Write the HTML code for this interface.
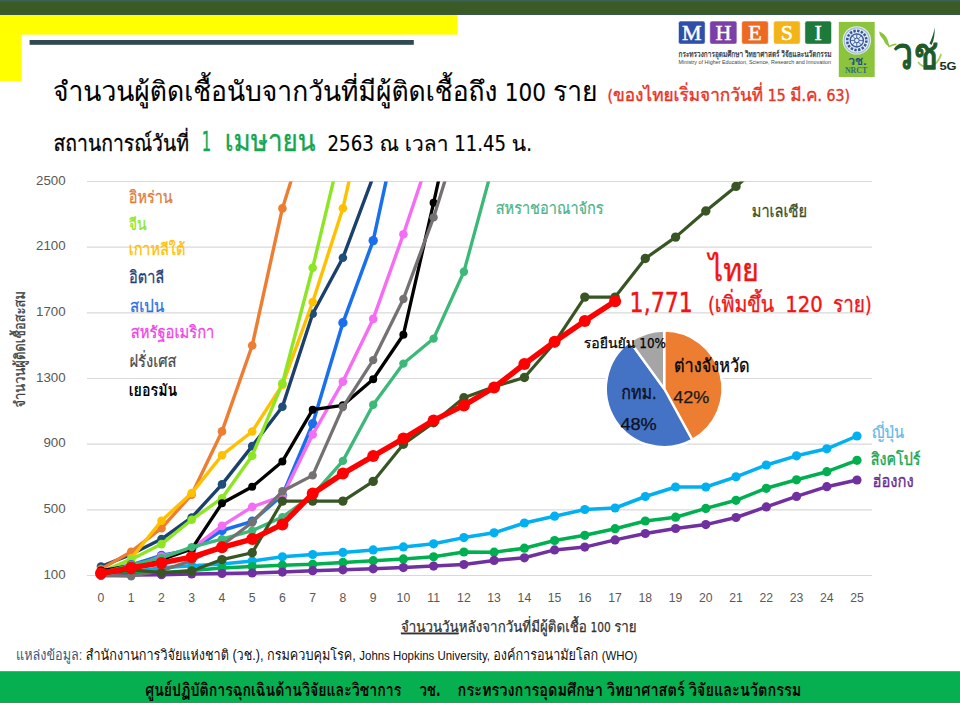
<!DOCTYPE html>
<html lang="th"><head><meta charset="utf-8">
<title>จำนวนผู้ติดเชื้อนับจากวันที่มีผู้ติดเชื้อถึง 100 ราย</title>
<style>
html,body{margin:0;padding:0;background:#fff;}
body{width:960px;height:703px;overflow:hidden;position:relative;font-family:"Liberation Sans", "Loma", "Noto Sans Thai", "Sarabun", sans-serif;}
svg{position:absolute;left:0;top:0;display:block;font-family:"Liberation Sans", "Loma", "Noto Sans Thai", "Sarabun", sans-serif;}
text{white-space:pre;}
.b{font-weight:bold;}
.lat{font-family:"DejaVu Sans Condensed", "DejaVu Sans", "Liberation Sans", sans-serif;}
.serif{font-family:"Liberation Serif", "Noto Serif Thai", serif;}
</style></head><body>
<svg width="960" height="703" viewBox="0 0 960 703">
<g id="header-deco">
<rect x="0" y="0" width="960" height="15" fill="#3A5A26"/>
<rect x="0" y="0" width="960" height="1.8" fill="#3D6058"/>
<rect x="0" y="13.4" width="960" height="1.6" fill="#3A5848"/>
<rect x="0" y="15" width="457.5" height="19.6" fill="#FFFF00"/>
<rect x="0" y="15" width="21.7" height="66" fill="#FFFF00"/>
<rect x="29.6" y="40" width="384.2" height="4.8" fill="#2F4A50"/>
</g>
<g id="logos">
<g id="mhesi" font-family='"Liberation Serif", "DejaVu Serif", serif' font-weight="normal" font-size="22" fill="#fff" stroke="#fff" stroke-width="0.5" text-anchor="middle">
<rect x="678.5" y="21.1" width="26.6" height="23" rx="2.2" fill="#2F4FA8"/><text x="691.8" y="40.2">M</text>
<rect x="709.8" y="21.1" width="27.1" height="23" rx="2.2" fill="#7B3FA8"/><text x="723.4" y="40.2">H</text>
<rect x="741.7" y="21.1" width="26.6" height="23" rx="2.2" fill="#EE6A20"/><text x="755" y="40.2">E</text>
<rect x="773.6" y="21.1" width="26.6" height="23" rx="2.2" fill="#F2B418"/><text x="786.9" y="40.2">S</text>
<rect x="804.9" y="21.1" width="26.6" height="23" rx="2.2" fill="#1E7A3A"/><text x="818.2" y="40.2">I</text>
</g>
<text x="678.5" y="56.6" font-size="8.6" fill="#333" stroke="#333" stroke-width="0.25" textLength="153" lengthAdjust="spacingAndGlyphs">กระทรวงการอุดมศึกษา วิทยาศาสตร์ วิจัยและนวัตกรรม</text>
<text x="678.5" y="64" font-size="5.6" fill="#444" textLength="152.5" lengthAdjust="spacingAndGlyphs">Ministry of Higher Education, Science, Research and Innovation</text>
<g id="nrct">
<rect x="838.8" y="21.9" width="35.9" height="55.1" fill="#8CC43C"/>
<circle cx="856.8" cy="40.4" r="14.2" fill="#E4ECF6"/>
<circle cx="856.8" cy="40.4" r="12.6" fill="none" stroke="#9FB6D8" stroke-width="1.2"/>
<circle cx="856.8" cy="40.4" r="9.6" fill="none" stroke="#34589A" stroke-width="2.6" stroke-dasharray="2.4 1.37"/>
<circle cx="856.8" cy="40.4" r="6.6" fill="none" stroke="#34589A" stroke-width="1.3"/>
<g stroke="#34589A" stroke-width="0.9">
<line x1="856.8" y1="33.8" x2="856.8" y2="47"/><line x1="850.2" y1="40.4" x2="863.4" y2="40.4"/>
<line x1="852.1" y1="35.7" x2="861.5" y2="45.1"/><line x1="852.1" y1="45.1" x2="861.5" y2="35.7"/>
</g>
<circle cx="856.8" cy="40.4" r="2.3" fill="#E4ECF6" stroke="#34589A" stroke-width="1"/>
<text x="848.3" y="64.8" font-size="11.6" font-weight="bold" fill="#1F4E8A" textLength="18.3" lengthAdjust="spacingAndGlyphs">วช.</text>
<text x="844.9" y="72.6" font-size="7.4" font-weight="bold" fill="#2F6A8A" font-family='"Liberation Serif", serif' textLength="22.3" lengthAdjust="spacingAndGlyphs">NRCT</text>
</g>
<g id="wc5g">
<path d="M879.2 31.4 C883 33 886 35.4 887.4 39.2 C888.4 42 888.8 44.8 890.2 46.8 C886.4 45.8 884.8 43 883.6 40.2 C882.4 37.4 879.6 36.8 879.2 31.4 Z" fill="#8CC43C"/>
<path d="M888.8 46.6 C891 45.6 893.4 44.6 896 44.2" fill="none" stroke="#8CC43C" stroke-width="1.4" stroke-linecap="round"/>
<path d="M918.5 62.5 C923.5 69.5 937 68 941 54.5" fill="none" stroke="#A8CF5A" stroke-width="1.8" stroke-linecap="round"/>
<text x="892.8" y="69.2" font-size="44.5" fill="#1D5A2C" stroke="#1D5A2C" stroke-width="1.25" stroke-linejoin="round" stroke-linecap="round" textLength="45.5" lengthAdjust="spacingAndGlyphs">วช</text>
<path d="M929.5 43.5 C931.8 39 934 33 934.4 27.6 C935.2 33.5 934 40 931.6 45 Z" fill="#1D5A2C"/>
<text x="939.4" y="69.8" font-size="11.7" font-weight="bold" fill="#1C3320" textLength="17.2" lengthAdjust="spacingAndGlyphs">5G</text>
</g>
</g>

<g id="titles">
<text x="53" y="101" font-size="27.5" fill="#000" stroke="#000" stroke-width="0.12" textLength="544.5" lengthAdjust="spacingAndGlyphs">จำนวนผู้ติดเชื้อนับจากวันที่มีผู้ติดเชื้อถึง <tspan class="lat" font-size="25.0">100 </tspan>ราย</text>
<text x="607.5" y="100.5" font-size="18" fill="#EA3323" stroke="#EA3323" stroke-width="0.4" textLength="242.5" lengthAdjust="spacingAndGlyphs"><tspan class="lat" font-size="16.4">(</tspan>ของไทยเริ่มจากวันที่ <tspan class="lat" font-size="16.4">15 </tspan>มี<tspan class="lat" font-size="16.4">.</tspan>ค<tspan class="lat" font-size="16.4">. 63)</tspan></text>
<text x="53.5" y="151" font-size="22.4" fill="#000" stroke="#000" stroke-width="0.3" textLength="135.5" lengthAdjust="spacingAndGlyphs">สถานการณ์วันที่</text>
<text x="201.8" y="150.6" font-size="26.5" fill="#14A651" stroke="#14A651" stroke-width="0.3" textLength="9.4" lengthAdjust="spacingAndGlyphs"><tspan class="lat" font-size="26.5">1</tspan></text>
<text x="224.7" y="150.6" font-size="30.5" fill="#14A651" stroke="#14A651" stroke-width="0.35" textLength="90.9" lengthAdjust="spacingAndGlyphs">เมษายน</text>
<text x="327.6" y="150.8" font-size="21.5" fill="#000" stroke="#000" stroke-width="0.15" textLength="204.4" lengthAdjust="spacingAndGlyphs"><tspan class="lat" font-size="20.6">2563 </tspan>ณ เวลา <tspan class="lat" font-size="20.6">11.45 </tspan>น<tspan class="lat" font-size="20.6">.</tspan></text>
</g>
<g id="chart">
<defs><clipPath id="plot"><rect x="87.0" y="181.5" width="785.0" height="406.0"/></clipPath></defs>
<line x1="87.0" y1="575.5" x2="872.0" y2="575.5" stroke="#D9D9D9" stroke-width="1.2"/>
<text x="65.6" y="578.5" font-size="13.3" fill="#595959" text-anchor="end">100</text>
<line x1="87.0" y1="509.8" x2="872.0" y2="509.8" stroke="#D9D9D9" stroke-width="1.2"/>
<text x="65.6" y="512.8" font-size="13.3" fill="#595959" text-anchor="end">500</text>
<line x1="87.0" y1="444.2" x2="872.0" y2="444.2" stroke="#D9D9D9" stroke-width="1.2"/>
<text x="65.6" y="447.2" font-size="13.3" fill="#595959" text-anchor="end">900</text>
<line x1="87.0" y1="378.5" x2="872.0" y2="378.5" stroke="#D9D9D9" stroke-width="1.2"/>
<text x="65.6" y="381.5" font-size="13.3" fill="#595959" text-anchor="end">1300</text>
<line x1="87.0" y1="312.8" x2="872.0" y2="312.8" stroke="#D9D9D9" stroke-width="1.2"/>
<text x="65.6" y="315.8" font-size="13.3" fill="#595959" text-anchor="end">1700</text>
<line x1="87.0" y1="247.2" x2="872.0" y2="247.2" stroke="#D9D9D9" stroke-width="1.2"/>
<text x="65.6" y="250.2" font-size="13.3" fill="#595959" text-anchor="end">2100</text>
<line x1="87.0" y1="181.5" x2="872.0" y2="181.5" stroke="#D9D9D9" stroke-width="1.2"/>
<text x="65.6" y="184.5" font-size="13.3" fill="#595959" text-anchor="end">2500</text>
<text x="101.0" y="601.9" font-size="12.2" fill="#595959" text-anchor="middle">0</text>
<text x="131.2" y="601.9" font-size="12.2" fill="#595959" text-anchor="middle">1</text>
<text x="161.5" y="601.9" font-size="12.2" fill="#595959" text-anchor="middle">2</text>
<text x="191.7" y="601.9" font-size="12.2" fill="#595959" text-anchor="middle">3</text>
<text x="222.0" y="601.9" font-size="12.2" fill="#595959" text-anchor="middle">4</text>
<text x="252.2" y="601.9" font-size="12.2" fill="#595959" text-anchor="middle">5</text>
<text x="282.4" y="601.9" font-size="12.2" fill="#595959" text-anchor="middle">6</text>
<text x="312.7" y="601.9" font-size="12.2" fill="#595959" text-anchor="middle">7</text>
<text x="342.9" y="601.9" font-size="12.2" fill="#595959" text-anchor="middle">8</text>
<text x="373.2" y="601.9" font-size="12.2" fill="#595959" text-anchor="middle">9</text>
<text x="403.4" y="601.9" font-size="12.2" fill="#595959" text-anchor="middle">10</text>
<text x="433.6" y="601.9" font-size="12.2" fill="#595959" text-anchor="middle">11</text>
<text x="463.9" y="601.9" font-size="12.2" fill="#595959" text-anchor="middle">12</text>
<text x="494.1" y="601.9" font-size="12.2" fill="#595959" text-anchor="middle">13</text>
<text x="524.4" y="601.9" font-size="12.2" fill="#595959" text-anchor="middle">14</text>
<text x="554.6" y="601.9" font-size="12.2" fill="#595959" text-anchor="middle">15</text>
<text x="584.8" y="601.9" font-size="12.2" fill="#595959" text-anchor="middle">16</text>
<text x="615.1" y="601.9" font-size="12.2" fill="#595959" text-anchor="middle">17</text>
<text x="645.3" y="601.9" font-size="12.2" fill="#595959" text-anchor="middle">18</text>
<text x="675.6" y="601.9" font-size="12.2" fill="#595959" text-anchor="middle">19</text>
<text x="705.8" y="601.9" font-size="12.2" fill="#595959" text-anchor="middle">20</text>
<text x="736.0" y="601.9" font-size="12.2" fill="#595959" text-anchor="middle">21</text>
<text x="766.3" y="601.9" font-size="12.2" fill="#595959" text-anchor="middle">22</text>
<text x="796.5" y="601.9" font-size="12.2" fill="#595959" text-anchor="middle">23</text>
<text x="826.8" y="601.9" font-size="12.2" fill="#595959" text-anchor="middle">24</text>
<text x="857.0" y="601.9" font-size="12.2" fill="#595959" text-anchor="middle">25</text>
<g clip-path="url(#plot)" fill="none" stroke-linejoin="round" stroke-linecap="round">
<g id="s-italy" stroke="#1B406E">
<polyline points="101.0,566.5 131.2,554.3 161.5,539.1 191.7,517.5 222.0,484.4 252.2,446.1 282.4,406.7 312.7,313.8 342.9,257.7 373.2,176.6 403.4,84.8" stroke-width="3.4"/>
<g fill="#1F4E79" stroke="none"><circle cx="101.0" cy="566.5" r="4.3"/><circle cx="131.2" cy="554.3" r="4.3"/><circle cx="161.5" cy="539.1" r="4.3"/><circle cx="191.7" cy="517.5" r="4.3"/><circle cx="222.0" cy="484.4" r="4.3"/><circle cx="252.2" cy="446.1" r="4.3"/><circle cx="282.4" cy="406.7" r="4.3"/><circle cx="312.7" cy="313.8" r="4.3"/><circle cx="342.9" cy="257.7" r="4.3"/><circle cx="373.2" cy="176.6" r="4.3"/><circle cx="403.4" cy="84.8" r="4.3"/></g>
</g>
<g id="s-iran" stroke="#ED7D31">
<polyline points="101.0,569.1 131.2,551.7 161.5,528.2 191.7,494.6 222.0,431.4 252.2,345.5 282.4,208.4 312.7,112.2" stroke-width="3.4"/>
<g fill="#ED7D31" stroke="none"><circle cx="101.0" cy="569.1" r="4.3"/><circle cx="131.2" cy="551.7" r="4.3"/><circle cx="161.5" cy="528.2" r="4.3"/><circle cx="191.7" cy="494.6" r="4.3"/><circle cx="222.0" cy="431.4" r="4.3"/><circle cx="252.2" cy="345.5" r="4.3"/><circle cx="282.4" cy="208.4" r="4.3"/><circle cx="312.7" cy="112.2" r="4.3"/></g>
</g>
<g id="s-korea" stroke="#FFC000">
<polyline points="101.0,574.8 131.2,558.4 161.5,520.8 191.7,493.1 222.0,455.2 252.2,431.5 282.4,384.9 312.7,302.0 342.9,208.3 373.2,74.8" stroke-width="3.4"/>
<g fill="#FFC000" stroke="none"><circle cx="101.0" cy="574.8" r="4.3"/><circle cx="131.2" cy="558.4" r="4.3"/><circle cx="161.5" cy="520.8" r="4.3"/><circle cx="191.7" cy="493.1" r="4.3"/><circle cx="222.0" cy="455.2" r="4.3"/><circle cx="252.2" cy="431.5" r="4.3"/><circle cx="282.4" cy="384.9" r="4.3"/><circle cx="312.7" cy="302.0" r="4.3"/><circle cx="342.9" cy="208.3" r="4.3"/><circle cx="373.2" cy="74.8" r="4.3"/></g>
</g>
<g id="s-china" stroke="#8EE523">
<polyline points="101.0,572.1 131.2,559.4 161.5,544.1 191.7,519.7 222.0,498.2 252.2,455.7 282.4,383.4 312.7,267.7 342.9,141.4" stroke-width="3.4"/>
<g fill="#8EE523" stroke="none"><circle cx="101.0" cy="572.1" r="4.3"/><circle cx="131.2" cy="559.4" r="4.3"/><circle cx="161.5" cy="544.1" r="4.3"/><circle cx="191.7" cy="519.7" r="4.3"/><circle cx="222.0" cy="498.2" r="4.3"/><circle cx="252.2" cy="455.7" r="4.3"/><circle cx="282.4" cy="383.4" r="4.3"/><circle cx="312.7" cy="267.7" r="4.3"/><circle cx="342.9" cy="141.4" r="4.3"/></g>
</g>
<g id="s-spain" stroke="#1A6FEF">
<polyline points="101.0,572.2 131.2,564.8 161.5,555.5 191.7,549.4 222.0,530.5 252.2,521.3 282.4,495.2 312.7,423.8 342.9,322.8 373.2,240.6 403.4,101.0" stroke-width="3.5"/>
<g fill="#1A6FEF" stroke="none"><circle cx="101.0" cy="572.2" r="4.7"/><circle cx="131.2" cy="564.8" r="4.7"/><circle cx="161.5" cy="555.5" r="4.7"/><circle cx="191.7" cy="549.4" r="4.7"/><circle cx="222.0" cy="530.5" r="4.7"/><circle cx="252.2" cy="521.3" r="4.7"/><circle cx="282.4" cy="495.2" r="4.7"/><circle cx="312.7" cy="423.8" r="4.7"/><circle cx="342.9" cy="322.8" r="4.7"/><circle cx="373.2" cy="240.6" r="4.7"/><circle cx="403.4" cy="101.0" r="4.7"/></g>
</g>
<g id="s-usa" stroke="#F56CF5">
<polyline points="101.0,572.5 131.2,567.5 161.5,556.3 191.7,548.9 222.0,525.9 252.2,506.9 282.4,496.2 312.7,434.5 342.9,381.6 373.2,318.9 403.4,234.2 433.6,144.2" stroke-width="3.4"/>
<g fill="#F56CF5" stroke="none"><circle cx="101.0" cy="572.5" r="4.3"/><circle cx="131.2" cy="567.5" r="4.3"/><circle cx="161.5" cy="556.3" r="4.3"/><circle cx="191.7" cy="548.9" r="4.3"/><circle cx="222.0" cy="525.9" r="4.3"/><circle cx="252.2" cy="506.9" r="4.3"/><circle cx="282.4" cy="496.2" r="4.3"/><circle cx="312.7" cy="434.5" r="4.3"/><circle cx="342.9" cy="381.6" r="4.3"/><circle cx="373.2" cy="318.9" r="4.3"/><circle cx="403.4" cy="234.2" r="4.3"/><circle cx="433.6" cy="144.2" r="4.3"/></g>
</g>
<g id="s-germany" stroke="#000000">
<polyline points="101.0,570.6 131.2,565.8 161.5,559.7 191.7,548.9 222.0,503.3 252.2,486.8 282.4,461.4 312.7,409.7 342.9,405.3 373.2,379.3 403.4,334.7 433.6,202.8 463.9,66.6" stroke-width="3.3"/>
<g fill="#000000" stroke="none"><circle cx="101.0" cy="570.6" r="4.0"/><circle cx="131.2" cy="565.8" r="4.0"/><circle cx="161.5" cy="559.7" r="4.0"/><circle cx="191.7" cy="548.9" r="4.0"/><circle cx="222.0" cy="503.3" r="4.0"/><circle cx="252.2" cy="486.8" r="4.0"/><circle cx="282.4" cy="461.4" r="4.0"/><circle cx="312.7" cy="409.7" r="4.0"/><circle cx="342.9" cy="405.3" r="4.0"/><circle cx="373.2" cy="379.3" r="4.0"/><circle cx="403.4" cy="334.7" r="4.0"/><circle cx="433.6" cy="202.8" r="4.0"/><circle cx="463.9" cy="66.6" r="4.0"/></g>
</g>
<g id="s-uk" stroke="#3CB878">
<polyline points="101.0,572.9 131.2,565.0 161.5,557.9 191.7,547.1 222.0,539.2 252.2,530.7 282.4,517.1 312.7,495.1 342.9,460.9 373.2,404.8 403.4,363.6 433.6,338.6 463.9,271.8 494.1,160.8" stroke-width="3.3"/>
<g fill="#3CB878" stroke="none"><circle cx="101.0" cy="572.9" r="4.2"/><circle cx="131.2" cy="565.0" r="4.2"/><circle cx="161.5" cy="557.9" r="4.2"/><circle cx="191.7" cy="547.1" r="4.2"/><circle cx="222.0" cy="539.2" r="4.2"/><circle cx="252.2" cy="530.7" r="4.2"/><circle cx="282.4" cy="517.1" r="4.2"/><circle cx="312.7" cy="495.1" r="4.2"/><circle cx="342.9" cy="460.9" r="4.2"/><circle cx="373.2" cy="404.8" r="4.2"/><circle cx="403.4" cy="363.6" r="4.2"/><circle cx="433.6" cy="338.6" r="4.2"/><circle cx="463.9" cy="271.8" r="4.2"/><circle cx="494.1" cy="160.8" r="4.2"/></g>
</g>
<g id="s-japan" stroke="#00B0F0">
<polyline points="101.0,574.7 131.2,571.9 161.5,567.8 191.7,565.8 222.0,564.0 252.2,560.9 282.4,556.8 312.7,554.5 342.9,552.4 373.2,549.9 403.4,546.9 433.6,543.8 463.9,537.6 494.1,532.8 524.4,523.0 554.6,516.2 584.8,509.5 615.1,508.0 645.3,496.5 675.6,487.0 705.8,487.0 736.0,476.8 766.3,465.0 796.5,455.8 826.8,448.8 857.0,436.0" stroke-width="3.5"/>
<g fill="#00B0F0" stroke="none"><circle cx="101.0" cy="574.7" r="4.6"/><circle cx="131.2" cy="571.9" r="4.6"/><circle cx="161.5" cy="567.8" r="4.6"/><circle cx="191.7" cy="565.8" r="4.6"/><circle cx="222.0" cy="564.0" r="4.6"/><circle cx="252.2" cy="560.9" r="4.6"/><circle cx="282.4" cy="556.8" r="4.6"/><circle cx="312.7" cy="554.5" r="4.6"/><circle cx="342.9" cy="552.4" r="4.6"/><circle cx="373.2" cy="549.9" r="4.6"/><circle cx="403.4" cy="546.9" r="4.6"/><circle cx="433.6" cy="543.8" r="4.6"/><circle cx="463.9" cy="537.6" r="4.6"/><circle cx="494.1" cy="532.8" r="4.6"/><circle cx="524.4" cy="523.0" r="4.6"/><circle cx="554.6" cy="516.2" r="4.6"/><circle cx="584.8" cy="509.5" r="4.6"/><circle cx="615.1" cy="508.0" r="4.6"/><circle cx="645.3" cy="496.5" r="4.6"/><circle cx="675.6" cy="487.0" r="4.6"/><circle cx="705.8" cy="487.0" r="4.6"/><circle cx="736.0" cy="476.8" r="4.6"/><circle cx="766.3" cy="465.0" r="4.6"/><circle cx="796.5" cy="455.8" r="4.6"/><circle cx="826.8" cy="448.8" r="4.6"/><circle cx="857.0" cy="436.0" r="4.6"/></g>
</g>
<g id="s-singapore" stroke="#00B050">
<polyline points="101.0,573.9 131.2,573.5 161.5,572.7 191.7,570.6 222.0,568.1 252.2,566.5 282.4,565.2 312.7,564.3 342.9,562.4 373.2,560.7 403.4,558.9 433.6,556.8 463.9,552.0 494.1,552.2 524.4,548.2 554.6,540.5 584.8,535.3 615.1,528.7 645.3,521.0 675.6,517.2 705.8,508.4 736.0,500.3 766.3,488.3 796.5,479.8 826.8,471.7 857.0,460.3" stroke-width="3.5"/>
<g fill="#00B050" stroke="none"><circle cx="101.0" cy="573.9" r="4.6"/><circle cx="131.2" cy="573.5" r="4.6"/><circle cx="161.5" cy="572.7" r="4.6"/><circle cx="191.7" cy="570.6" r="4.6"/><circle cx="222.0" cy="568.1" r="4.6"/><circle cx="252.2" cy="566.5" r="4.6"/><circle cx="282.4" cy="565.2" r="4.6"/><circle cx="312.7" cy="564.3" r="4.6"/><circle cx="342.9" cy="562.4" r="4.6"/><circle cx="373.2" cy="560.7" r="4.6"/><circle cx="403.4" cy="558.9" r="4.6"/><circle cx="433.6" cy="556.8" r="4.6"/><circle cx="463.9" cy="552.0" r="4.6"/><circle cx="494.1" cy="552.2" r="4.6"/><circle cx="524.4" cy="548.2" r="4.6"/><circle cx="554.6" cy="540.5" r="4.6"/><circle cx="584.8" cy="535.3" r="4.6"/><circle cx="615.1" cy="528.7" r="4.6"/><circle cx="645.3" cy="521.0" r="4.6"/><circle cx="675.6" cy="517.2" r="4.6"/><circle cx="705.8" cy="508.4" r="4.6"/><circle cx="736.0" cy="500.3" r="4.6"/><circle cx="766.3" cy="488.3" r="4.6"/><circle cx="796.5" cy="479.8" r="4.6"/><circle cx="826.8" cy="471.7" r="4.6"/><circle cx="857.0" cy="460.3" r="4.6"/></g>
</g>
<g id="s-hongkong" stroke="#7030A0">
<polyline points="101.0,575.5 131.2,575.0 161.5,574.7 191.7,574.0 222.0,573.5 252.2,573.0 282.4,572.1 312.7,570.7 342.9,569.8 373.2,568.8 403.4,567.6 433.6,566.1 463.9,564.5 494.1,560.4 524.4,557.8 554.6,549.9 584.8,547.1 615.1,539.9 645.3,533.5 675.6,528.5 705.8,524.6 736.0,517.5 766.3,506.9 796.5,496.4 826.8,486.7 857.0,480.0" stroke-width="3.5"/>
<g fill="#7030A0" stroke="none"><circle cx="101.0" cy="575.5" r="4.6"/><circle cx="131.2" cy="575.0" r="4.6"/><circle cx="161.5" cy="574.7" r="4.6"/><circle cx="191.7" cy="574.0" r="4.6"/><circle cx="222.0" cy="573.5" r="4.6"/><circle cx="252.2" cy="573.0" r="4.6"/><circle cx="282.4" cy="572.1" r="4.6"/><circle cx="312.7" cy="570.7" r="4.6"/><circle cx="342.9" cy="569.8" r="4.6"/><circle cx="373.2" cy="568.8" r="4.6"/><circle cx="403.4" cy="567.6" r="4.6"/><circle cx="433.6" cy="566.1" r="4.6"/><circle cx="463.9" cy="564.5" r="4.6"/><circle cx="494.1" cy="560.4" r="4.6"/><circle cx="524.4" cy="557.8" r="4.6"/><circle cx="554.6" cy="549.9" r="4.6"/><circle cx="584.8" cy="547.1" r="4.6"/><circle cx="615.1" cy="539.9" r="4.6"/><circle cx="645.3" cy="533.5" r="4.6"/><circle cx="675.6" cy="528.5" r="4.6"/><circle cx="705.8" cy="524.6" r="4.6"/><circle cx="736.0" cy="517.5" r="4.6"/><circle cx="766.3" cy="506.9" r="4.6"/><circle cx="796.5" cy="496.4" r="4.6"/><circle cx="826.8" cy="486.7" r="4.6"/><circle cx="857.0" cy="480.0" r="4.6"/></g>
</g>
<g id="s-france" stroke="#767171">
<polyline points="101.0,575.5 131.2,576.2 161.5,570.6 191.7,560.6 222.0,545.1 252.2,522.5 282.4,491.3 312.7,475.4 342.9,407.1 373.2,360.1 403.4,299.0 433.6,217.4 463.9,119.8" stroke-width="3.3"/>
<g fill="#767171" stroke="none"><circle cx="101.0" cy="575.5" r="4.2"/><circle cx="131.2" cy="576.2" r="4.2"/><circle cx="161.5" cy="570.6" r="4.2"/><circle cx="191.7" cy="560.6" r="4.2"/><circle cx="222.0" cy="545.1" r="4.2"/><circle cx="252.2" cy="522.5" r="4.2"/><circle cx="282.4" cy="491.3" r="4.2"/><circle cx="312.7" cy="475.4" r="4.2"/><circle cx="342.9" cy="407.1" r="4.2"/><circle cx="373.2" cy="360.1" r="4.2"/><circle cx="403.4" cy="299.0" r="4.2"/><circle cx="433.6" cy="217.4" r="4.2"/><circle cx="463.9" cy="119.8" r="4.2"/></g>
</g>
<g id="s-malaysia" stroke="#375623">
<polyline points="101.0,573.9 131.2,569.8 161.5,572.7 191.7,571.1 222.0,559.6 252.2,552.8 282.4,501.1 312.7,501.1 342.9,501.1 373.2,481.4 403.4,444.2 433.6,422.8 463.9,397.7 494.1,386.7 524.4,377.5 554.6,342.7 584.8,297.1 615.1,297.1 645.3,258.5 675.6,237.1 705.8,211.0 736.0,186.4 766.3,160.8" stroke-width="3.2"/>
<g fill="#375623" stroke="none"><circle cx="101.0" cy="573.9" r="4.7"/><circle cx="131.2" cy="569.8" r="4.7"/><circle cx="161.5" cy="572.7" r="4.7"/><circle cx="191.7" cy="571.1" r="4.7"/><circle cx="222.0" cy="559.6" r="4.7"/><circle cx="252.2" cy="552.8" r="4.7"/><circle cx="282.4" cy="501.1" r="4.7"/><circle cx="312.7" cy="501.1" r="4.7"/><circle cx="342.9" cy="501.1" r="4.7"/><circle cx="373.2" cy="481.4" r="4.7"/><circle cx="403.4" cy="444.2" r="4.7"/><circle cx="433.6" cy="422.8" r="4.7"/><circle cx="463.9" cy="397.7" r="4.7"/><circle cx="494.1" cy="386.7" r="4.7"/><circle cx="524.4" cy="377.5" r="4.7"/><circle cx="554.6" cy="342.7" r="4.7"/><circle cx="584.8" cy="297.1" r="4.7"/><circle cx="615.1" cy="297.1" r="4.7"/><circle cx="645.3" cy="258.5" r="4.7"/><circle cx="675.6" cy="237.1" r="4.7"/><circle cx="705.8" cy="211.0" r="4.7"/><circle cx="736.0" cy="186.4" r="4.7"/><circle cx="766.3" cy="160.8" r="4.7"/></g>
</g>
<g id="s-thai" stroke="#FF0000">
<polyline points="101.0,573.2 131.2,567.8 161.5,562.9 191.7,557.1 222.0,547.3 252.2,539.1 282.4,524.4 312.7,493.6 342.9,473.6 373.2,456.1 403.4,438.6 433.6,420.4 463.9,405.4 494.1,387.5 524.4,364.0 554.6,341.7 584.8,320.9 615.1,301.2" stroke-width="5.5"/>
<g fill="#FF0000" stroke="none"><circle cx="101.0" cy="573.2" r="6.0"/><circle cx="131.2" cy="567.8" r="6.0"/><circle cx="161.5" cy="562.9" r="6.0"/><circle cx="191.7" cy="557.1" r="6.0"/><circle cx="222.0" cy="547.3" r="6.0"/><circle cx="252.2" cy="539.1" r="6.0"/><circle cx="282.4" cy="524.4" r="6.0"/><circle cx="312.7" cy="493.6" r="6.0"/><circle cx="342.9" cy="473.6" r="6.0"/><circle cx="373.2" cy="456.1" r="6.0"/><circle cx="403.4" cy="438.6" r="6.0"/><circle cx="433.6" cy="420.4" r="6.0"/><circle cx="463.9" cy="405.4" r="6.0"/><circle cx="494.1" cy="387.5" r="6.0"/><circle cx="524.4" cy="364.0" r="6.0"/><circle cx="554.6" cy="341.7" r="6.0"/><circle cx="584.8" cy="320.9" r="6.0"/><circle cx="615.1" cy="301.2" r="6.0"/></g>
</g>
</g>
<text x="128.7" y="203.0" font-size="16.6" fill="#E07B39" stroke="#E07B39" stroke-width="0.27" textLength="44.0" lengthAdjust="spacingAndGlyphs">อิหร่าน</text>
<text x="128.7" y="230.4" font-size="16.6" fill="#8EE523" stroke="#8EE523" stroke-width="0.27" textLength="17.9" lengthAdjust="spacingAndGlyphs">จีน</text>
<text x="128.7" y="255.1" font-size="16.6" fill="#FFC000" stroke="#FFC000" stroke-width="0.27" textLength="56.6" lengthAdjust="spacingAndGlyphs">เกาหลีใต้</text>
<text x="129.0" y="283.3" font-size="16.6" fill="#1F3F7A" stroke="#1F3F7A" stroke-width="0.27" textLength="35.2" lengthAdjust="spacingAndGlyphs">อิตาลี</text>
<text x="130.0" y="311.9" font-size="16.6" fill="#2B6FE0" stroke="#2B6FE0" stroke-width="0.27" textLength="34.2" lengthAdjust="spacingAndGlyphs">สเปน</text>
<text x="130.7" y="338.1" font-size="16.6" fill="#F044E4" stroke="#F044E4" stroke-width="0.27" textLength="83.7" lengthAdjust="spacingAndGlyphs">สหรัฐอเมริกา</text>
<text x="129.5" y="366.8" font-size="16.6" fill="#4A4A4A" stroke="#4A4A4A" stroke-width="0.24" textLength="47.0" lengthAdjust="spacingAndGlyphs">ฝรั่งเศส</text>
<text x="128.7" y="395.8" font-size="16.6" fill="#000000" font-weight="700" textLength="48.6" lengthAdjust="spacingAndGlyphs">เยอรมัน</text>
<text x="495.7" y="214.2" font-size="16.6" fill="#4DB38A" stroke="#4DB38A" stroke-width="0.24" textLength="108.0" lengthAdjust="spacingAndGlyphs">สหราชอาณาจักร</text>
<text x="751.8" y="216.9" font-size="16.6" fill="#3B4F22" stroke="#3B4F22" stroke-width="0.27" textLength="55.2" lengthAdjust="spacingAndGlyphs">มาเลเซีย</text>
<text x="872.0" y="438.2" font-size="16.6" fill="#62B8E8" stroke="#62B8E8" stroke-width="0.24" textLength="32.0" lengthAdjust="spacingAndGlyphs">ญี่ปุ่น</text>
<text x="870.7" y="465.1" font-size="16.6" fill="#1AA651" stroke="#1AA651" stroke-width="0.36" textLength="49.7" lengthAdjust="spacingAndGlyphs">สิงคโปร์</text>
<text x="872.4" y="486.8" font-size="16.6" fill="#6A2C91" stroke="#6A2C91" stroke-width="0.36" textLength="41.2" lengthAdjust="spacingAndGlyphs">ฮ่องกง</text>
<text x="708.8" y="281" font-size="32" fill="#F01414" stroke="#F01414" stroke-width="0.45" textLength="50.0" lengthAdjust="spacingAndGlyphs">ไทย</text>
<text x="629.6" y="311.9" font-size="26.2" fill="#F01414" stroke="#F01414" stroke-width="0.35" textLength="63.2" lengthAdjust="spacingAndGlyphs"><tspan class="lat" font-size="26.2">1,771</tspan></text>
<text x="707.9" y="311.6" font-size="22" fill="#F01414" stroke="#F01414" stroke-width="0.35" textLength="66.3" lengthAdjust="spacingAndGlyphs"><tspan class="lat" font-size="22.0">(</tspan>เพิ่มขึ้น</text>
<text x="785.3" y="311.6" font-size="21.4" fill="#F01414" stroke="#F01414" stroke-width="0.35" textLength="37.5" lengthAdjust="spacingAndGlyphs"><tspan class="lat" font-size="21.4">120</tspan></text>
<text x="833" y="311.6" font-size="22" fill="#F01414" stroke="#F01414" stroke-width="0.35" textLength="38.6" lengthAdjust="spacingAndGlyphs">ราย<tspan class="lat" font-size="22.0">)</tspan></text>
<g id="pie">
<path d="M664.2,388.75 L664.20,330.45 A58.3,58.3 0 0 1 692.29,439.84 Z" fill="#ED7D31" stroke="#fff" stroke-width="2.4" stroke-linejoin="round"/>
<path d="M664.2,388.75 L692.29,439.84 A58.3,58.3 0 0 1 629.93,341.58 Z" fill="#4472C4" stroke="#fff" stroke-width="2.4" stroke-linejoin="round"/>
<path d="M664.2,388.75 L629.93,341.58 A58.3,58.3 0 0 1 664.20,330.45 Z" fill="#A5A5A5" stroke="#fff" stroke-width="2.4" stroke-linejoin="round"/>
<text x="583.8" y="348.1" font-size="14" fill="#000" stroke="#000" stroke-width="0.25" textLength="82.2" lengthAdjust="spacingAndGlyphs">รอยืนยัน <tspan class="lat" font-size="13.3">10%</tspan></text>
<text x="674" y="371.7" font-size="18.2" fill="#000" stroke="#000" stroke-width="0.3" textLength="75.6" lengthAdjust="spacingAndGlyphs">ต่างจังหวัด</text>
<text x="673.3" y="403.3" font-size="16.6" fill="#1A1A1A" stroke="#1A1A1A" stroke-width="0.25" textLength="36.1" lengthAdjust="spacingAndGlyphs">42%</text>
<text x="621.2" y="398.8" font-size="18.2" fill="#0A1020" stroke="#0A1020" stroke-width="0.3" textLength="35.5" lengthAdjust="spacingAndGlyphs">กทม<tspan class="lat" font-size="18.2">.</tspan></text>
<text x="620.4" y="429.8" font-size="16.6" fill="#0A1020" stroke="#0A1020" stroke-width="0.25" textLength="36.3" lengthAdjust="spacingAndGlyphs">48%</text>
</g>
<text x="0" y="0" font-size="14.6" fill="#404040" stroke="#404040" stroke-width="0.3" textLength="116.5" lengthAdjust="spacingAndGlyphs" transform="translate(24.9,407.5) rotate(-90)">จำนวนผู้ติดเชื้อสะสม</text>
<text x="401" y="631.7" font-size="15.2" fill="#333" stroke="#333" stroke-width="0.25" textLength="235.7" lengthAdjust="spacingAndGlyphs"><tspan text-decoration="underline">จำนวนวัน</tspan>หลังจากวันที่มีผู้ติดเชื้อ <tspan class="lat" font-size="13.4">100 </tspan>ราย</text>
</g>
<g id="footer">
<text x="16" y="659.5" font-size="14.4" fill="#111" textLength="621.3" lengthAdjust="spacingAndGlyphs"><tspan fill="#3B5A7A">แหล่งข้อมูล:</tspan> สำนักงานการวิจัยแห่งชาติ (วช.), กรมควบคุมโรค, <tspan font-size="13">Johns Hopkins University, </tspan>องค์การอนามัยโลก <tspan font-size="13">(WHO)</tspan></text>
<rect x="0" y="671.2" width="960" height="32" fill="#06B050"/>
<text x="145.2" y="696.1" font-size="17.4" fill="#000" font-weight="700" textLength="256.2" lengthAdjust="spacingAndGlyphs">ศูนย์ปฏิบัติการฉุกเฉินด้านวิจัยและวิชาการ</text>
<text x="419.6" y="696.1" font-size="17.4" fill="#000" font-weight="700" textLength="20.8" lengthAdjust="spacingAndGlyphs">วช<tspan class="lat" font-size="17.4">.</tspan></text>
<text x="457.6" y="696.1" font-size="17.4" fill="#000" font-weight="700" textLength="343.8" lengthAdjust="spacingAndGlyphs">กระทรวงการอุดมศึกษา วิทยาศาสตร์ วิจัยและนวัตกรรม</text>
</g>
</svg>
</body></html>
